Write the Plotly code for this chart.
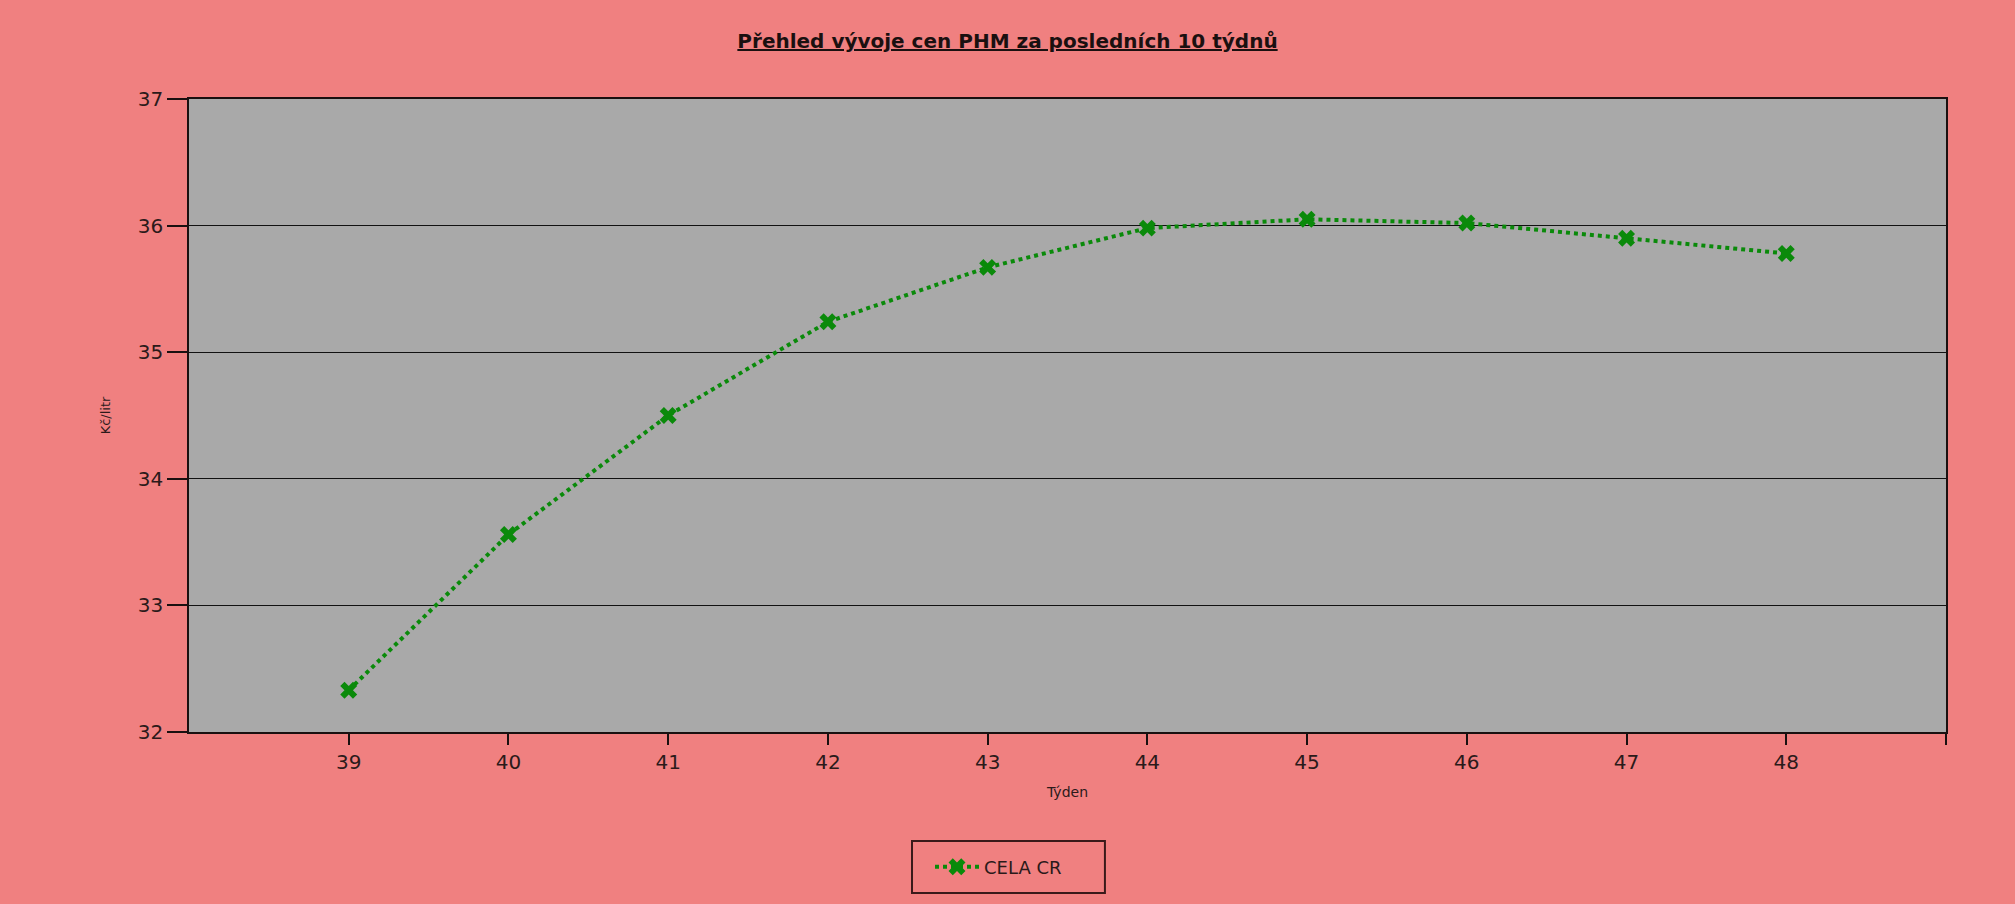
import plotly.graph_objects as go

# Týdny a průměrná cena (Kč/litr)
weeks = [39, 40, 41, 42, 43, 44, 45, 46, 47, 48]
prices = [32.33, 33.56, 34.50, 35.24, 35.67, 35.98, 36.05, 36.02, 35.90, 35.78]
series_name = "CELA CR"

x_tickvals = [39, 40, 41, 42, 43, 44, 45, 46, 47, 48, 49]
x_ticktext = ["39", "40", "41", "42", "43", "44", "45", "46", "47", "48", ""]
y_tickvals = [32, 33, 34, 35, 36, 37]

FONT = "DejaVu Sans, Verdana, sans-serif"
TEXT_COLOR = "#2b1a1a"
LINE_COLOR = "#1a1010"
GREEN = "#0a8a0a"

fig = go.Figure()
fig.add_trace(go.Scatter(
    x=weeks, y=prices,
    name=series_name,
    mode="lines+markers",
    line=dict(color=GREEN, width=4, dash="dot"),
    marker=dict(symbol="x", size=15, color=GREEN),
))

# rámeček legendy
fig.add_shape(
    type="rect", xref="paper", yref="paper",
    x0=0.4115, x1=0.5213, y0=-0.2543, y1=-0.1722,
    line=dict(color="#3a1a1a", width=2),
)

fig.update_layout(
    width=2015, height=904,
    paper_bgcolor="#F08080",
    plot_bgcolor="#A9A9A9",
    font=dict(family=FONT, color=TEXT_COLOR, size=15),
    margin=dict(t=99, b=172, l=189, r=69),
    title=dict(
        text="<b><u>Přehled vývoje cen PHM za posledních 10 týdnů</u></b>",
        x=0.5, xanchor="center", xref="container",
        y=1 - 41 / 904, yanchor="middle",
        font=dict(size=20, color="#1a1010", family=FONT),
    ),
    showlegend=True,
    legend=dict(
        orientation="h",
        xref="container", yref="container",
        x=930 / 2015, xanchor="left",
        y=1 - 867 / 904, yanchor="middle",
        bgcolor="rgba(0,0,0,0)",
        borderwidth=0,
        itemwidth=44,
        font=dict(size=18, color=TEXT_COLOR, family=FONT),
    ),
    xaxis=dict(
        range=[38, 49],
        tickvals=x_tickvals, ticktext=x_ticktext,
        ticks="outside", ticklen=11, tickcolor=LINE_COLOR, tickwidth=1.5,
        showgrid=False, zeroline=False,
        showline=True, linecolor=LINE_COLOR, linewidth=1.5, mirror=True,
        tickfont=dict(size=20, color=TEXT_COLOR),
        title=dict(text="Týden", font=dict(size=14, color=TEXT_COLOR), standoff=14),
    ),
    yaxis=dict(
        range=[32, 37],
        tickvals=y_tickvals,
        ticks="outside", ticklen=20, tickcolor=LINE_COLOR, tickwidth=1.5,
        showgrid=True, gridcolor="#111111", gridwidth=1.2,
        zeroline=False,
        showline=True, linecolor=LINE_COLOR, linewidth=1.5, mirror=True,
        tickfont=dict(size=20, color=TEXT_COLOR),
        title=dict(text="Kč/litr", font=dict(size=13, color=TEXT_COLOR), standoff=24),
    ),
)

fig.write_html(
    "out.html",
    config={"displayModeBar": False},
    post_script="document.body.style.margin='0';document.body.style.overflow='hidden';",
)
